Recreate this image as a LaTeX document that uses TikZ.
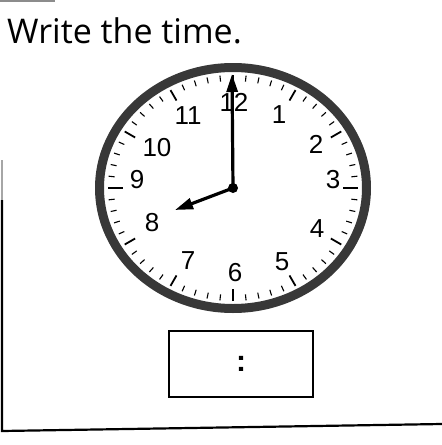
\documentclass[tikz,border=0pt]{standalone}
\usepackage{fontspec}
\setmainfont{Liberation Sans}
\newfontfamily\titlefont{Open Sans}
\usetikzlibrary{arrows.meta,calc}

\tikzset{
  numeral/.style={inner sep=0pt, font=\fontsize{26}{26}\selectfont},
  hand/.style={line width=3.2pt, -{Triangle[length=18pt,width=11pt]}},
  ring/.style={draw=black!78, line width=9pt},
  answerbox/.style={draw, line width=1.2pt, minimum width=144pt, minimum height=66pt, inner sep=0pt},
  frame/.style={line width=2.2pt}
}

\begin{document}
\begin{tikzpicture}[x=1pt,y=1pt,yscale=-1]
\useasboundingbox (0,0) rectangle (442,445);

% Text Node
\node (title) [anchor=base west, inner sep=0pt, font=\titlefont\fontsize{34}{34}\selectfont] at (7,43) {Write the time.};

%Straight Lines: frame
\coordinate (ftop) at (0,0.8);
\coordinate (ftopend) at (55,0.8);
\draw [black!45, line width=1.5pt] (ftop) -- (ftopend);
\coordinate (fa) at (2,160);
\coordinate (fb) at (2,200);
\coordinate (fc) at (2,431);
\coordinate (fd) at (442,424);
\draw [frame, black!35] (fa) -- (fb);
\draw [frame] (fb) -- (fc) -- (fd);

%Shape: clock face
\coordinate (ctr) at (233,188);
\draw [ring] (ctr) ellipse [x radius=133.5, y radius=120.5];

% ticks
\foreach \k in {0,...,59}{
  \pgfmathsetmacro{\ang}{6*\k}
  \pgfmathsetmacro{\len}{mod(\k,15)==0 ? (mod(\k,30)==0 ? 12 : 15) : (mod(\k,5)==0 ? 12 : 6)}
  \pgfmathsetmacro{\wid}{mod(\k,5)==0 ? 1.8 : 1.1}
  \draw [line width=\wid pt] ($(ctr)+({125*sin(\ang)},{-113*cos(\ang)})$) -- ($(ctr)+({(125-\len)*sin(\ang)},{-(113-\len)*cos(\ang)})$);
}

% numbers
\foreach \num/\nx/\ny in {12/234/102, 1/279/115, 2/316/144, 3/333/180, 4/317/229, 5/282/262, 6/235/273, 7/188/261, 8/152/223, 9/137/180, 10/157/148, 11/188/116}{
  \node (n\num) [numeral] at (\nx,\ny) {\num};
}

% hands
\coordinate (mtip) at (232,74);
\coordinate (htip) at (175,210);
\draw [hand] (ctr) -- (mtip);
\draw [hand] (ctr) -- (htip);
\fill (ctr) circle (5);

% answer box
\node (ans) [answerbox] at (241,364) {};
\node (colon) [inner sep=0pt, font=\bfseries\fontsize{30}{30}\selectfont] at (ans.center) {:};

\end{tikzpicture}
\end{document}
